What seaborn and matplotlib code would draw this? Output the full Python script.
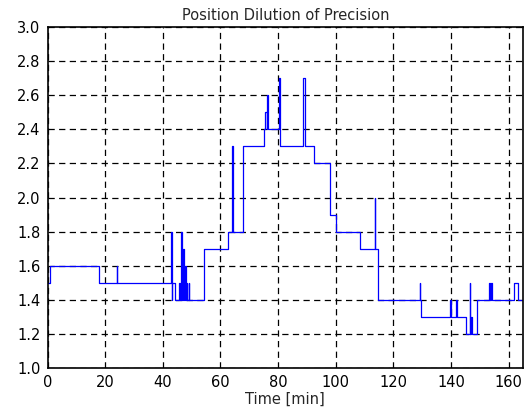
import matplotlib
matplotlib.use("Agg")
import matplotlib.pyplot as plt
import seaborn as sns
import pandas as pd
import numpy as np

# Step breakpoints (time in minutes, PDOP value held until next time)
times = [0.0, 1.0, 18.0, 24.0, 24.1, 42.8, 43.2, 43.3, 44.4,
         45.8, 45.9, 46.4, 46.5, 47.1, 47.2, 47.7, 48.0, 48.4, 48.5, 49.0, 49.1,
         54.3, 62.5, 64.1, 64.25, 68.0, 75.0, 75.5, 76.0, 76.3, 76.4,
         80.2, 80.8, 88.8, 89.3, 92.6, 98.2, 100.2,
         108.3, 108.5, 108.6, 108.8, 113.5, 113.6, 114.8,
         129.1, 129.2, 129.7, 139.8, 140.15, 141.8, 142.2,
         145.3, 146.5, 146.6, 147.1, 147.2, 149.1,
         153.3, 153.4, 154.0, 154.1, 162.0, 163.3, 165.0]
pdop = [1.5, 1.6, 1.5, 1.6, 1.5, 1.8, 1.4, 1.5, 1.4,
        1.5, 1.4, 1.8, 1.4, 1.7, 1.4, 1.6, 1.4, 1.5, 1.4, 1.5, 1.4,
        1.7, 1.8, 2.3, 1.8, 2.3, 2.4, 2.5, 2.4, 2.6, 2.4,
        2.7, 2.3, 2.7, 2.3, 2.2, 1.9, 1.8,
        1.7, 1.8, 1.7, 1.7, 2.0, 1.7, 1.4,
        1.5, 1.4, 1.3, 1.4, 1.3, 1.4, 1.3,
        1.2, 1.5, 1.2, 1.3, 1.2, 1.4,
        1.5, 1.4, 1.5, 1.4, 1.5, 1.4, 1.4]

x_ticks = [0, 20, 40, 60, 80, 100, 120, 140, 160]
y_ticks = [1.0, 1.2, 1.4, 1.6, 1.8, 2.0, 2.2, 2.4, 2.6, 2.8, 3.0]

df = pd.DataFrame({"Time": times, "PDOP": pdop})

sns.set_style("white")
plt.rcParams["font.family"] = ["DejaVu Sans"]

fig = plt.figure(figsize=(5.27, 4.08), dpi=100)
ax = fig.add_axes([47.5 / 527, 1 - 368 / 408, (523 - 47.5) / 527, (368 - 27) / 408])

sns.lineplot(data=df, x="Time", y="PDOP", ax=ax, drawstyle="steps-post",
             color="#0000ff", linewidth=0.9, estimator=None, sort=False)

ax.set_xlim(0, 165)
ax.set_ylim(1.0, 3.0)
ax.set_xticks(x_ticks)
ax.set_yticks(y_ticks)
ax.set_yticklabels([f"{v:.1f}" for v in y_ticks])
ax.set_xticklabels([str(v) for v in x_ticks])
ax.tick_params(axis="both", labelsize=10.5, colors="black", length=0, pad=5)

ax.grid(True, color="black", linestyle=(0, (5, 3.5)), linewidth=0.9)
ax.set_axisbelow(True)
for s in ax.spines.values():
    s.set_color("black")
    s.set_linewidth(1.2)

ax.set_title("Position Dilution of Precision", fontsize=10.5, pad=5)
ax.set_xlabel("Time [min]", fontsize=10.5, labelpad=1)
ax.set_ylabel("")

fig.savefig("out.png", dpi=100)
